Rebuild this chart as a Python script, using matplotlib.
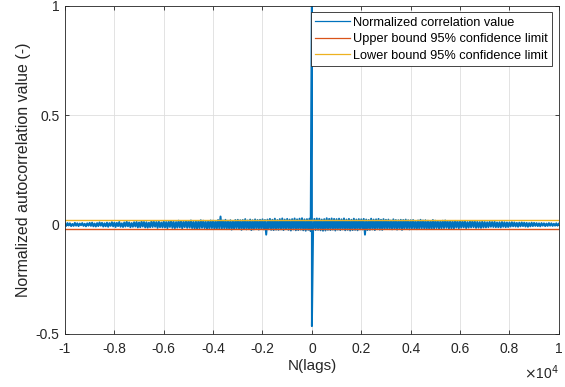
import numpy as np
import matplotlib.pyplot as plt

plt.rcParams['font.family'] = ['Liberation Sans', 'DejaVu Sans']

# lags of the autocorrelation: every 50 lags, plus lag 1 next to the zero-lag peak
lags = np.concatenate([np.arange(-10000, 1, 50), [1], np.arange(50, 10001, 50)])

# normalized autocorrelation, in units of 1e-3
acf_milli = [
    5, -6, 7, -4, 6, -7, 3, -6, 8, -5, 6, -7, 5, -3, 7, -6, 4, -8, 6, -5,
    8, -6, 9, -8, 5, -9, 7, -7, 10, -5, 8, -9, 6, -8, 9, -10, 7, -6, 11, -8,
    9, -11, 8, -7, 12, -10, 6, -11, 10, -9, 13, -8, 10, -12, 7, -10, 11, -9, 12, -13,
    10, -12, 14, -9, 12, -13, 11, -14, 9, -12, 15, -11, 13, -10, 12, -15, 14, -12, 10, -13,
    15, -13, 12, -16, 14, -11, 17, -15, 13, -16, 12, -14, 18, -13, 15, -17, 14, -12, 16, -15,
    17, -14, 19, -16, 13, -18, 16, -19, 15, -17, 20, -15, 18, -16, 14, -21, 17, -18, 19, -16,
    18, -20, 17, -19, 21, -18, 37, -20, 19, -17, 22, -21, 18, -19, 20, -23, 17, -20, 21, -18,
    22, -19, 20, -24, 21, -20, 25, -22, 19, -21, 23, -25, 20, -22, 24, -19, 21, -23, 22, -20,
    24, -22, 21, -46, 23, -21, 26, -24, 22, -25, 27, -23, 21, -24, 25, -22, 28, -25, 23, -21,
    26, -24, 23, -27, 25, -22, 28, -26, 24, -25, 27, -23, 29, -26, 24, -28, 25, -24, 27, -30,
    1000, -464,
    -22, 26, -25, 28, -24, 27, -26, 23, -28, 25, -27, 29, -24, 26, -25, 28, -23, 26, -27,
    25, -23, 27, -25, 24, -22, 28, -26, 23, -24, 26, -27, 22, -25, 27, -24, 23, -26, 25, -22,
    24, -22, 26, -46, 23, -25, 21, -24, 27, -22, 23, -25, 24, -21, 26, -23, 22, -24, 25, -20,
    22, -20, 23, -21, 19, -22, 24, -20, 21, -23, 20, -19, 22, -24, 21, -20, 23, -18, 20, -22,
    20, -18, 21, -19, 17, -21, 19, -20, 22, -17, 19, -18, 20, -21, 18, -19, 17, -20, 21, -18,
    18, -16, 17, -19, 15, -17, 18, -16, 19, -15, 17, -18, 16, -17, 15, -18, 17, -14, 16, -17,
    15, -14, 16, -13, 15, -16, 12, -14, 15, -13, 16, -12, 14, -15, 13, -14, 12, -15, 14, -13,
    12, -13, 11, -12, 13, -10, 12, -11, 13, -12, 10, -12, 11, -13, 12, -10, 11, -12, 10, -11,
    10, -9, 11, -8, 10, -9, 8, -10, 9, -8, 10, -7, 9, -9, 8, -10, 7, -8, 9, -7,
    8, -6, 7, -7, 6, -8, 7, -5, 6, -7, 5, -6, 7, -5, 6, -6, 4, -5, 6, -5,
    4,
]
acf = np.array(acf_milli) / 1000.0

upper_conf = -0.0196
lower_conf = 0.0196

ink = '#262626'

fig = plt.figure(figsize=(5.65, 3.87), dpi=100)
ax = fig.add_axes([0.115, 0.137, 0.874, 0.848])

ax.plot(lags, acf, color=(0, 0.447, 0.741), lw=1.4, label='Normalized correlation value')
ax.plot([lags[0], lags[-1]], [upper_conf, upper_conf], color=(0.85, 0.325, 0.098), lw=1.0,
        label='Upper bound 95% confidence limit')
ax.plot([lags[0], lags[-1]], [lower_conf, lower_conf], color=(0.929, 0.694, 0.125), lw=1.0,
        label='Lower bound 95% confidence limit')

ax.set_xlim(-10000, 10000)
ax.set_ylim(-0.5, 1)
ax.set_xticks(np.arange(-10000, 10001, 2000))
ax.set_xticklabels(['-1', '-0.8', '-0.6', '-0.4', '-0.2', '0', '0.2', '0.4', '0.6', '0.8', '1'])
ax.set_yticks([-0.5, 0, 0.5, 1])
ax.set_yticklabels(['-0.5', '0', '0.5', '1'])
ax.text(1.0, -0.09, r'$\times$10$^4$', transform=ax.transAxes, ha='right', va='top',
        fontsize=10, color=ink)

ax.grid(True, color='#dedede', lw=0.6)
ax.set_axisbelow(True)
ax.tick_params(direction='in', top=True, right=True, labelsize=10, colors=ink,
               length=3, width=0.6)
ax.tick_params(axis='x', pad=6)
ax.tick_params(axis='y', pad=4)
for s in ax.spines.values():
    s.set_color(ink)
    s.set_linewidth(0.6)

ax.set_xlabel('N(lags)', fontsize=11, color=ink, labelpad=2)
ax.set_ylabel('Normalized autocorrelation value (-)', fontsize=11.5, color=ink, labelpad=3)

leg = ax.legend(loc='upper right', fontsize=9.2, handlelength=2.7, handletextpad=0.25,
                borderpad=0.35, labelspacing=0.35, fancybox=False, framealpha=1,
                borderaxespad=0.5)
leg.get_frame().set_edgecolor(ink)
leg.get_frame().set_linewidth(0.6)
for h in leg.get_lines():
    h.set_linewidth(0.9)

fig.savefig('out.png')
